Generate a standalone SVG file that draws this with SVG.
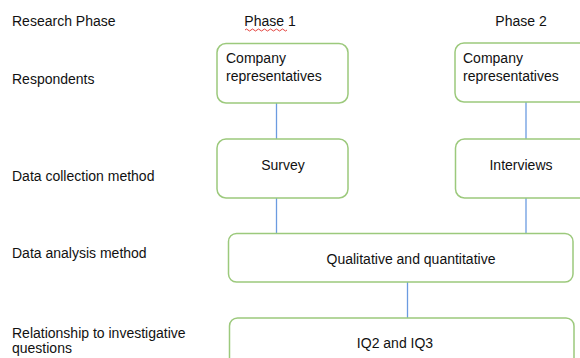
<svg xmlns="http://www.w3.org/2000/svg" width="580" height="358" viewBox="0 0 580 358">
<style>
text{font-family:"Liberation Sans",Arial,sans-serif;font-size:14px;fill:#111}
.box{fill:#fff;stroke:#9cc97c;stroke-width:1.5}
.c{text-anchor:middle}
.ln{stroke:#6b9be0;stroke-width:1.3;fill:none}
</style>
<rect width="580" height="358" fill="#fff"/>
<g id="labels">
<text x="12" y="26">Research Phase</text>
<text x="12" y="84">Respondents</text>
<text x="12" y="181">Data collection method</text>
<text x="12" y="258">Data analysis method</text>
<text x="12" y="338">Relationship to investigative</text>
<text x="12" y="353">questions</text>
<text class="c" x="270" y="26">Phase 1</text>
<text class="c" x="521" y="26">Phase 2</text>
<path d="M245 30 q1.5 -2 3 0 t3 0 t3 0 t3 0 t3 0 t3 0 t3 0 t3 0 t3 0 t3 0 t3 0 t3 0 t3 0 t3 0" stroke="#e0302a" stroke-width="0.9" fill="none"/>
</g>
<g id="connectors">
<line class="ln" x1="276.5" y1="103" x2="276.5" y2="139"/>
<line class="ln" x1="276.5" y1="198" x2="276.5" y2="233"/>
<line class="ln" x1="526" y1="102" x2="526" y2="139"/>
<line class="ln" x1="526" y1="198" x2="526" y2="233"/>
<line class="ln" x1="407.5" y1="282" x2="407.5" y2="318"/>
</g>
<g id="resp1">
<rect class="box" x="217" y="43.5" width="131" height="59.5" rx="9"/>
<text x="226" y="63">Company</text>
<text x="226" y="81">representatives</text>
</g>
<g id="resp2">
<rect class="box" x="455" y="43" width="135" height="59" rx="9"/>
<text x="463" y="63">Company</text>
<text x="463" y="81">representatives</text>
</g>
<g id="survey">
<rect class="box" x="217" y="139" width="131" height="59" rx="9"/>
<text class="c" x="283" y="170">Survey</text>
</g>
<g id="interviews">
<rect class="box" x="455.5" y="139" width="135" height="59" rx="9"/>
<text class="c" x="521" y="170">Interviews</text>
</g>
<g id="analysis">
<rect class="box" x="228.5" y="233.5" width="344.5" height="48.5" rx="8"/>
<text class="c" x="411" y="264">Qualitative and quantitative</text>
</g>
<g id="iq">
<rect class="box" x="229.5" y="318" width="344.5" height="60" rx="8"/>
<text class="c" x="395" y="348">IQ2 and IQ3</text>
</g>
</svg>
